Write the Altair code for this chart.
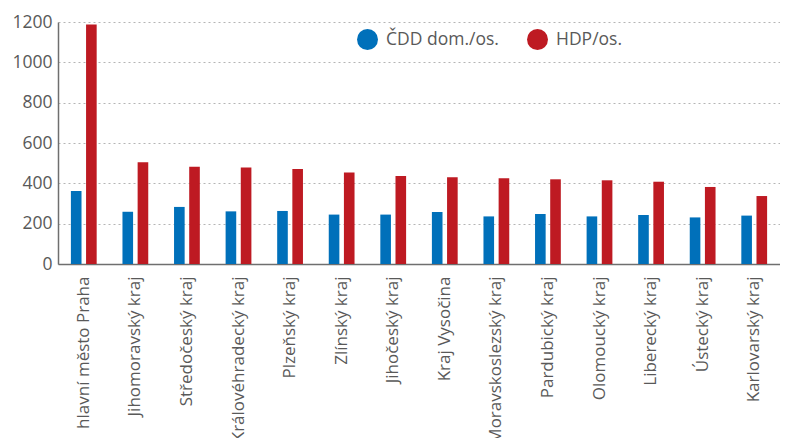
import altair as alt
import pandas as pd

categories = ["hlavní město Praha", "Jihomoravský kraj", "Středočeský kraj",
              "Královéhradecký kraj", "Plzeňský kraj", "Zlínský kraj",
              "Jihočeský kraj", "Kraj Vysočina", "Moravskoslezský kraj",
              "Pardubický kraj", "Olomoucký kraj", "Liberecký kraj",
              "Ústecký kraj", "Karlovarský kraj"]
series = ["ČDD dom./os.", "HDP/os."]
cdd = [362, 259, 283, 261, 263, 245, 245, 258, 236, 248, 236, 243, 231, 240]
hdp = [1188, 504, 482, 478, 471, 454, 436, 430, 425, 420, 415, 408, 382, 337]
colors = ["#0070BA", "#BE1A22"]

rows = []
for c, a, b in zip(categories, cdd, hdp):
    rows.append({"kraj": c, "serie": series[0], "hodnota": a})
    rows.append({"kraj": c, "serie": series[1], "hodnota": b})
df = pd.DataFrame(rows)

FONT = "Open Sans"
TXT = "#595959"

chart = alt.Chart(df).mark_bar().encode(
    x=alt.X("kraj:N", sort=categories, title=None,
            scale=alt.Scale(paddingInner=0.5, paddingOuter=0.25),
            axis=alt.Axis(labelAngle=-90, labelAlign="right", labelBaseline="middle",
                          labelPadding=12, ticks=False, labelFontSize=17,
                          labelColor=TXT, labelFont=FONT, domainColor="#6f6f6f",
                          domainWidth=1.5, labelLimit=400)),
    xOffset=alt.XOffset("serie:N", sort=series, scale=alt.Scale(paddingInner=0.3)),
    y=alt.Y("hodnota:Q", title=None,
            scale=alt.Scale(domain=[0, 1200], nice=False),
            axis=alt.Axis(values=[0, 200, 400, 600, 800, 1000, 1200], format="d",
                          ticks=False, labelFontSize=17.5, labelColor=TXT, labelFont=FONT,
                          labelPadding=6, domainColor="#6f6f6f", domainWidth=1.5,
                          grid=True, gridColor="#b5b5b5", gridDash=[2, 3],
                          gridWidth=1)),
    color=alt.Color("serie:N", sort=series,
                    scale=alt.Scale(domain=series, range=colors),
                    legend=alt.Legend(title=None, orient="none", direction="horizontal",
                                      legendX=299, legendY=7, symbolType="circle",
                                      symbolSize=440, symbolStrokeWidth=0,
                                      labelFontSize=17.5, labelColor=TXT, labelFont=FONT,
                                      labelOffset=8, columnPadding=28)),
).properties(
    width=722, height=242,
    autosize=alt.AutoSizeParams(type="none"),
    padding={"left": 50, "top": 14, "right": 0, "bottom": 174},
).configure_view(stroke=None)

chart.save("out.html", embed_options={"renderer": "svg", "actions": False})
